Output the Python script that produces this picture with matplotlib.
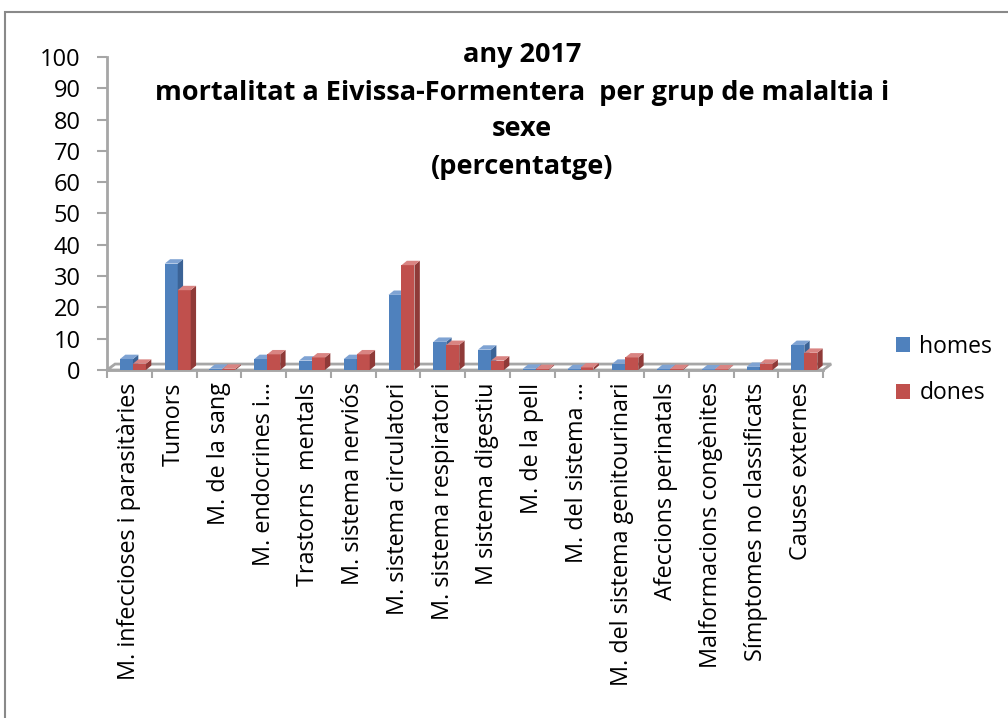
import numpy as np
import matplotlib.pyplot as plt
from matplotlib.patches import Polygon, Rectangle, Patch

plt.rcParams['font.family'] = ['Open Sans', 'DejaVu Sans']

categories = [
    "M. infeccioses i parasitàries", "Tumors", "M. de la sang", "M. endocrines i…",
    "Trastorns  mentals", "M. sistema nerviós", "M. sistema circulatori",
    "M. sistema respiratori", "M sistema digestiu", "M. de la pell",
    "M. del sistema …", "M. del sistema genitourinari", "Afeccions perinatals",
    "Malformacions congènites", "Símptomes no classificats", "Causes externes",
]
homes = [3.5, 34, 0.4, 3.5, 3, 3.5, 24, 9, 6.5, 0.4, 0.3, 2, 0.3, 0.2, 1, 8]
dones = [2, 25.5, 0.4, 5, 4, 5, 33.5, 8, 3, 0.3, 0.8, 4, 0.3, 0.2, 2, 5.5]
yticks = list(range(0, 101, 10))

series = [
    ("homes", homes, "#4F81BD", "#3B6396", "#7FA3D3"),
    ("dones", dones, "#C0504D", "#8F3A38", "#D98482"),
]

fig = plt.figure(figsize=(10.08, 7.18), dpi=100)
ax = fig.add_axes([107 / 1008, 1 - 370 / 718, 734 / 1008, 313 / 718])

n = len(categories)
x = np.arange(n) + 0.5
width = 0.29
ddx, ddy = 0.12, 1.4   # bar depth
fdx, fdy = 0.18, 1.9   # floor depth

# floor
floor = Polygon([(0, 0), (n, 0), (n + fdx, fdy), (fdx, fdy)], closed=True,
                facecolor="none", edgecolor="#A6A6A6", lw=2, zorder=1, clip_on=False)
ax.add_patch(floor)

for k, (name, vals, front, side, top) in enumerate(series):
    left = x + 0.08 - width + k * width
    ax.bar(left, vals, width=width, align="edge", color=front, zorder=3 + k * 2)
    for xl, v in zip(left, vals):
        xr = xl + width
        ax.add_patch(Polygon([(xr, 0), (xr + ddx, ddy), (xr + ddx, v + ddy), (xr, v)],
                             closed=True, facecolor=side, edgecolor="none",
                             zorder=3 + k * 2, clip_on=False))
        ax.add_patch(Polygon([(xl, v), (xr, v), (xr + ddx, v + ddy), (xl + ddx, v + ddy)],
                             closed=True, facecolor=top, edgecolor="none",
                             zorder=3 + k * 2, clip_on=False))

ax.set_xlim(0, n + 0.4)
ax.set_ylim(0, 100)
ax.set_yticks(yticks)
ax.set_yticklabels([str(t) for t in yticks], fontsize=17)
ax.set_xticks(x)
ax.set_xticklabels(categories, rotation=90, fontsize=16.8, va="top", ha="center")
ax.set_xticks(np.arange(n + 1), minor=True)
ax.tick_params(axis="x", which="major", length=0, pad=9)
ax.tick_params(axis="x", which="minor", length=6, width=1.5, color="#A6A6A6")
ax.tick_params(axis="y", length=7, width=1.5, color="#A6A6A6", pad=12)

for s in ["top", "right"]:
    ax.spines[s].set_visible(False)
ax.spines["left"].set_color("#A6A6A6")
ax.spines["left"].set_linewidth(2)
ax.spines["bottom"].set_color("#A6A6A6")
ax.spines["bottom"].set_linewidth(2)
ax.spines["bottom"].set_bounds(0, n)

fig.text(522 / 1008, 1 - 111 / 718,
         "any 2017\nmortalitat a Eivissa-Formentera  per grup de malaltia i\nsexe\n(percentatge)",
         ha="center", va="center", fontsize=19.5, fontweight="bold", linespacing=1.55)

handles = [Patch(facecolor=s[2], label=s[0]) for s in series]
fig.legend(handles=handles, loc="center left", bbox_to_anchor=(885 / 1008, 1 - 370 / 718),
           frameon=False, fontsize=16.5, handlelength=0.6, handleheight=0.6,
           handletextpad=0.4, labelspacing=1.0, borderpad=0)

fig.patches.append(Rectangle((5 / 1008, -0.1), 1.2, 1 - 12 / 718 + 0.1,
                             transform=fig.transFigure, fill=False,
                             edgecolor="#898989", lw=1.5))

fig.savefig("out.png", dpi=100)
